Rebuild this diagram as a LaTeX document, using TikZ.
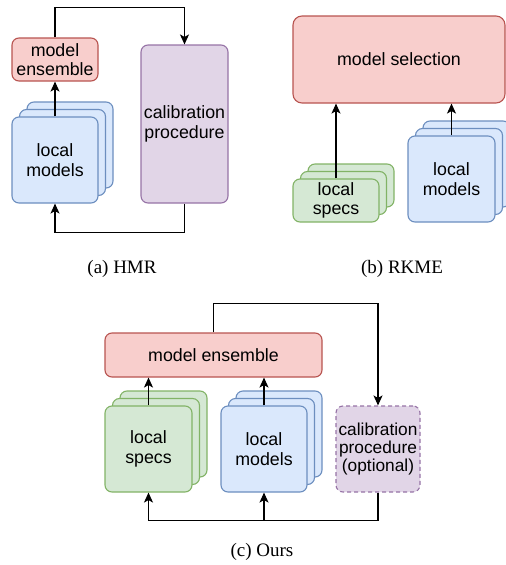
\documentclass[tikz,border=0pt]{standalone}
\usepackage{fontspec}
\setmainfont{Liberation Serif}
\setsansfont{Liberation Sans}
\usetikzlibrary{arrows.meta,shadows}

\definecolor{redfill}{HTML}{F8CECC}
\definecolor{redline}{HTML}{B85450}
\definecolor{bluefill}{HTML}{DAE8FC}
\definecolor{blueline}{HTML}{6C8EBF}
\definecolor{greenfill}{HTML}{D5E8D4}
\definecolor{greenline}{HTML}{82B366}
\definecolor{purplefill}{HTML}{E1D5E7}
\definecolor{purpleline}{HTML}{9673A6}

\begin{document}
\begin{tikzpicture}[x=1pt,y=-1pt,->,>={Stealth[length=10pt,width=9pt,inset=2.5pt]},line width=1.2pt,
  box/.style={rounded corners=7pt,draw,align=center,inner sep=0pt,line width=1.1pt,
    font=\sffamily\fontsize{17.8}{19.5}\selectfont},
  redbox/.style={box,fill=redfill,draw=redline},
  bluebox/.style={box,fill=bluefill,draw=blueline},
  greenbox/.style={box,fill=greenfill,draw=greenline},
  purplebox/.style={box,fill=purplefill,draw=purpleline},
  bluestack/.style={bluebox,
    copy shadow={shadow xshift=15pt,shadow yshift=15pt,fill=bluefill,draw=blueline,line width=1.1pt},
    copy shadow={shadow xshift=7.5pt,shadow yshift=7.5pt,fill=bluefill,draw=blueline,line width=1.1pt}},
  greenstack/.style={greenbox,
    copy shadow={shadow xshift=15pt,shadow yshift=15pt,fill=greenfill,draw=greenline,line width=1.1pt},
    copy shadow={shadow xshift=7.5pt,shadow yshift=7.5pt,fill=greenfill,draw=greenline,line width=1.1pt}},
  caption/.style={font=\fontsize{19}{21}\selectfont}]

 \useasboundingbox (0,0) rectangle (506,565);

 % (a) HMR
 \node[redbox,minimum width=86pt,minimum height=43pt] (ensA) at (55,59.5) {model\\ensemble};
 \node[bluestack,minimum width=86pt,minimum height=86pt] (locA) at (55,160) {local\\models};
 \node[purplebox,minimum width=87pt,minimum height=158pt] (calA) at (184.5,124) {calibration\\procedure};
 \node[caption] (capA) at (122,269) {(a) HMR};

 \draw (locA.north) -- (ensA.south);
 \draw (ensA.north) -- ++(0,-30) -| (calA.north);
 \draw (calA.south) -- ++(0,29) -| (locA.south);

 % (b) RKME
 \node[redbox,minimum width=212pt,minimum height=87pt,rounded corners=9pt] (selB) at (399,59.5) {model selection};
 \node[greenstack,minimum width=86pt,minimum height=43pt] (specB) at (336,200.5) {local\\specs};
 \node[bluestack,minimum width=87pt,minimum height=86pt] (modB) at (451.5,179) {local\\models};
 \node[caption] (capB) at (402,269) {(b) RKME};

 \draw (specB.north) -- (specB.north |- selB.south);
 \draw (modB.north) -- (modB.north |- selB.south);

 % (c) Ours
 \node[redbox,minimum width=217pt,minimum height=44pt] (ensC) at (213.5,355) {model ensemble};
 \node[greenstack,minimum width=87pt,minimum height=86pt] (specC) at (148.5,449) {local\\specs};
 \node[bluestack,minimum width=86pt,minimum height=86pt] (modC) at (264,449) {local\\models};
 \node[purplebox,dashed,dash pattern=on 4pt off 3pt,minimum width=84pt,minimum height=86pt,
   font=\sffamily\fontsize{17.3}{18}\selectfont] (calC) at (378,449) {calibration\\procedure\\(optional)};
 \node[caption] (capC) at (262,552) {(c) Ours};

 \draw (specC.north) -- (specC.north |- ensC.south);
 \draw (modC.north) -- (modC.north |- ensC.south);
 \draw (ensC.north) -- ++(0,-29) -| (calC.north);
 \draw (calC.south) -- ++(0,28) -| (specC.south);
 \coordinate (jC) at (modC.south |- 0,520);
 \draw (jC) -- (modC.south);

\end{tikzpicture}
\end{document}
